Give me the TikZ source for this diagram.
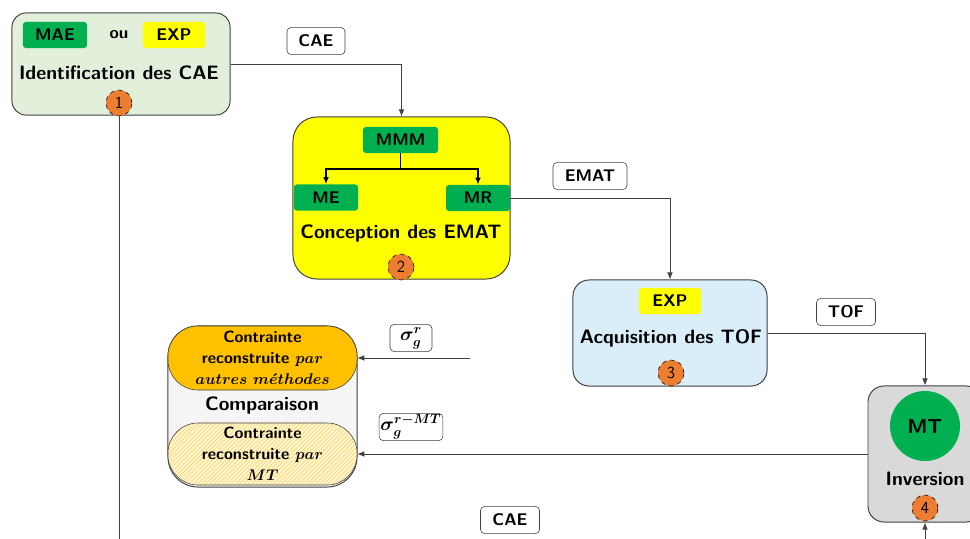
\RequirePackage{fix-cm}
\documentclass[tikz,border=0pt]{standalone}
\usepackage{amsmath}
\usepackage{amssymb}
\usepackage{xcolor}
\usetikzlibrary{arrows.meta,patterns}

\definecolor{vert}{HTML}{00B050}
\definecolor{jaune}{HTML}{FFFF00}
\definecolor{vertpale}{HTML}{E2EFDA}
\definecolor{bleupale}{HTML}{D9EEF9}
\definecolor{grisbloc}{HTML}{D9D9D9}
\definecolor{grisfond}{HTML}{F5F5F5}
\definecolor{orangec}{HTML}{ED7D31}
\definecolor{orangef}{HTML}{FFC000}
\definecolor{trait}{HTML}{404040}

\newcommand{\mth}[1]{{\fontsize{11}{15}\selectfont$#1$}}

\begin{document}
\begin{tikzpicture}[
  x=0.025cm,y=-0.025cm,
  font=\sffamily\bfseries\boldmath,
  bloc/.style={draw=trait,line width=0.7pt,rounded corners=0.35cm},
  tag/.style={rounded corners=2pt,minimum height=0.65cm,inner sep=0pt,font=\sffamily\bfseries\large},
  num/.style={circle,draw=black,dashed,fill=orangec,minimum size=0.65cm,inner sep=0pt,font=\sffamily\large},
  etiq/.style={draw=trait,fill=white,rounded corners=3pt,minimum height=0.65cm,inner sep=1pt,font=\sffamily\bfseries\boldmath\large},
  lien/.style={draw=trait,line width=0.6pt,-{Latex[length=5pt,width=4pt]}},
  titre/.style={font=\sffamily\bfseries\fontsize{13.8}{16}\selectfont},
  moitie/.style={draw=trait,rounded corners=0.75cm,minimum width=4.725cm,align=center,inner sep=0pt,font=\sffamily\bfseries\boldmath\fontsize{11.5}{15}\selectfont}
]
  \useasboundingbox (0,0) rectangle (970,538);

  % 1 : identification
  \node[bloc,fill=vertpale,minimum width=5.45cm,minimum height=2.55cm] (b1) at (121,64) {};
  \node[tag,fill=vert,minimum width=1.6cm] (mae) at (55,35) {MAE};
  \node[font=\sffamily\bfseries\large] (ou) at (119,35) {ou};
  \node[tag,fill=jaune,minimum width=1.55cm] (exp1) at (174,35) {EXP};
  \node[titre] (t1) at (119,73) {Identification des CAE};
  \node[num] (c1) at (119,103) {1};

  % 2 : conception
  \node[bloc,fill=jaune,rounded corners=0.6cm,minimum width=5.425cm,minimum height=4.05cm] (b2) at (401.5,198) {};
  \node[tag,fill=vert,minimum width=1.875cm] (mmm) at (400.5,140) {MMM};
  \node[tag,fill=vert,minimum width=1.6cm] (me) at (326,197.5) {ME};
  \node[tag,fill=vert,minimum width=1.6cm] (mr) at (478,198) {MR};
  \coordinate (fourche) at (400.5,169);
  \draw[line width=1.3pt] (mmm.south) -- (fourche);
  \draw[line width=1.3pt,-{Latex[length=5pt,width=4pt]}] (fourche) -| (me.north);
  \draw[line width=1.3pt,-{Latex[length=5pt,width=4pt]}] (fourche) -| (mr.north);
  \node[titre] (t2) at (401,234) {Conception des EMAT};
  \node[num] (c2) at (401,267) {2};

  % 3 : acquisition
  \node[bloc,fill=bleupale,rounded corners=0.4cm,minimum width=4.85cm,minimum height=2.65cm] (b3) at (670,333) {};
  \node[tag,fill=jaune,minimum width=1.55cm] (exp3) at (670,301) {EXP};
  \node[titre] (t3) at (671,338) {Acquisition des TOF};
  \node[num] (c3) at (671,373) {3};

  % 4 : inversion
  \node[bloc,fill=grisbloc,rounded corners=0.4cm,minimum width=2.85cm,minimum height=3.4cm] (b4) at (925,454) {};
  \node[circle,fill=vert,minimum size=1.75cm,inner sep=0pt,font=\sffamily\bfseries\Large] (mt) at (925,426) {MT};
  \node[titre] (t4) at (925,479) {Inversion};
  \node[num] (c4) at (925,508) {4};

  % comparaison
  \node[bloc,fill=grisfond,rounded corners=0.75cm,minimum width=4.725cm,minimum height=4.025cm] (cmp) at (262.5,406.5) {};
  \node[moitie,fill=orangef,minimum height=1.6cm] (haut) at (262.5,358)
    {Contrainte\\ reconstruite \mth{par}\\ \mth{autres\ m\acute{e}thodes}};
  \node[titre] (tc) at (262,406) {Comparaison};
  \node[moitie,preaction={fill=orangef!15},pattern=north east lines,pattern color=orangef!70,minimum height=1.55cm] (bas) at (262.5,454)
    {Contrainte\\ reconstruite \mth{par}\\ \mth{MT}};

  % liens
  \draw[lien] (b1.east) -| (b2.north);
  \draw[lien] (mr.east) -| (b3.north);
  \draw[lien] (b3.east) -| (b4.north);
  \draw[lien] (b4.west) -- (bas.east);
  \coordinate (srce) at (470,358);
  \draw[lien] (srce) -- (haut.east);
  \coordinate (basg) at (119,540);
  \draw[draw=trait,line width=0.6pt] (c1.south) -- (basg);
  \coordinate (basd) at (925,540);
  \draw[lien] (basd) -- (b4.south);

  % etiquettes
  \node[etiq,minimum width=1.45cm,minimum height=0.68cm] (l1) at (316,41) {CAE};
  \node[etiq,minimum width=1.05cm,minimum height=0.68cm,font=\boldmath\fontsize{13.5}{15}\selectfont] (l4) at (411,338) {$\sigma_g^r$};
  \node[etiq,minimum width=1.85cm,minimum height=0.68cm] (l2) at (590,176) {EMAT};
  \node[etiq,minimum width=1.475cm,minimum height=0.68cm] (l3) at (846,312) {TOF};
  \node[etiq,minimum width=1.45cm,minimum height=0.65cm,font=\boldmath\fontsize{13.5}{15}\selectfont] (l5) at (411,427) {$\sigma_g^{r-MT}$};
  \node[etiq,minimum width=1.475cm,minimum height=0.68cm] (l6) at (510,520) {CAE};
\end{tikzpicture}
\end{document}
